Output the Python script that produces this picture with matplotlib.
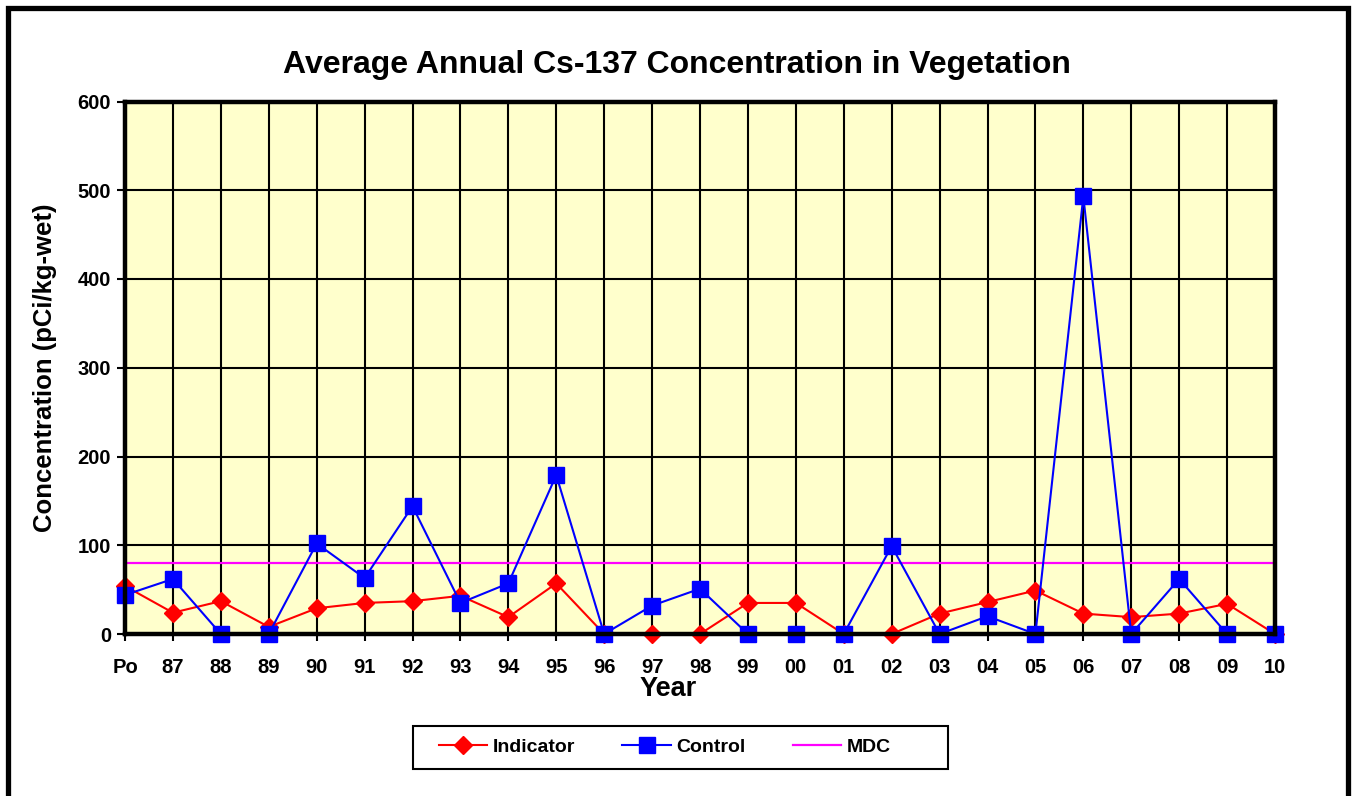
import matplotlib
matplotlib.use("Agg")
import matplotlib.pyplot as plt
from matplotlib.patches import Rectangle

plt.rcParams['font.family'] = ['Liberation Sans', 'DejaVu Sans']
plt.rcParams['font.weight'] = 'bold'

# datos
years = ["Po", "87", "88", "89", "90", "91", "92", "93", "94", "95", "96", "97",
         "98", "99", "00", "01", "02", "03", "04", "05", "06", "07", "08", "09", "10"]
indicator = [54, 24, 37, 8, 29, 35, 37, 43, 19, 57, 0, 0,
             0, 35, 35, 0, 0, 23, 36, 49, 23, 19, 23, 34, 0]
control = [44, 62, 0, 0, 102, 63, 144, 35, 57, 179, 0, 32,
           51, 0, 0, 0, 99, 0, 20, 0, 493, 0, 62, 0, 0]
mdc = 80

W, H = 1357, 796
fig = plt.figure(figsize=(W / 100, H / 100), dpi=100)
ax = fig.add_axes([125 / W, 1 - 634 / H, (1275 - 125) / W, (634 - 101.5) / H])
ax.set_facecolor("#FFFFCC")

x = list(range(len(years)))

ax.axhline(mdc, color="#FF00FF", lw=1.6, zorder=3, label="MDC")
ax.plot(x, indicator, color="red", lw=1.5, marker="D", ms=9.5, mfc="red", mec="red",
        clip_on=False, zorder=4, label="Indicator")
ax.plot(x, control, color="blue", lw=1.5, marker="s", ms=11.5, mfc="blue", mec="blue",
        clip_on=False, zorder=5, label="Control")

ax.set_xlim(0, len(years) - 1)
ax.set_ylim(0, 600)
ax.set_xticks(x)
ax.set_xticklabels(years)
ax.set_yticks(range(0, 601, 100))
ax.grid(True, color="black", lw=1.5, zorder=1)
ax.set_axisbelow(True)
for s in ax.spines.values():
    s.set_linewidth(3.2)
    s.set_zorder(6)
ax.tick_params(axis="both", labelsize=14.5, width=1.5, color="black")
ax.tick_params(axis="y", length=6, pad=4)
ax.tick_params(axis="x", length=5, pad=12)

ax.set_xlabel("Year", fontsize=19.5, fontweight="bold")
ax.xaxis.set_label_coords((668 - 125) / 1150, -(676 - 634) / 532.5)
ax.set_ylabel("Concentration (pCi/kg-wet)", fontsize=18.5, fontweight="bold")
ax.yaxis.set_label_coords(-(125 - 57) / 1150, 0.5)

fig.text(677 / W, 1 - 65 / H, "Average Annual Cs-137 Concentration in Vegetation",
         ha="center", va="center", fontsize=23, fontweight="bold")

# leyenda
h, l = ax.get_legend_handles_labels()
order = [1, 2, 0]
fig.legend([h[i] for i in order], [l[i] for i in order], loc="center",
           bbox_to_anchor=(665 / W, 1 - 747 / H), ncol=3, frameon=False,
           handlelength=2.5, handletextpad=0.3, columnspacing=2.4,
           prop={"weight": "bold", "size": 14})
fig.patches.append(Rectangle((413 / W, 1 - 769 / H), (948 - 413) / W, 43 / H,
                             transform=fig.transFigure, fill=False, ec="black", lw=1.5))

# marco exterior
fig.patches.append(Rectangle((7.5 / W, -0.004), (1348 - 7.5) / W, 1 - 8 / H + 0.004,
                             transform=fig.transFigure, fill=False, ec="black", lw=3.8))

fig.savefig("out.png", dpi=100)
